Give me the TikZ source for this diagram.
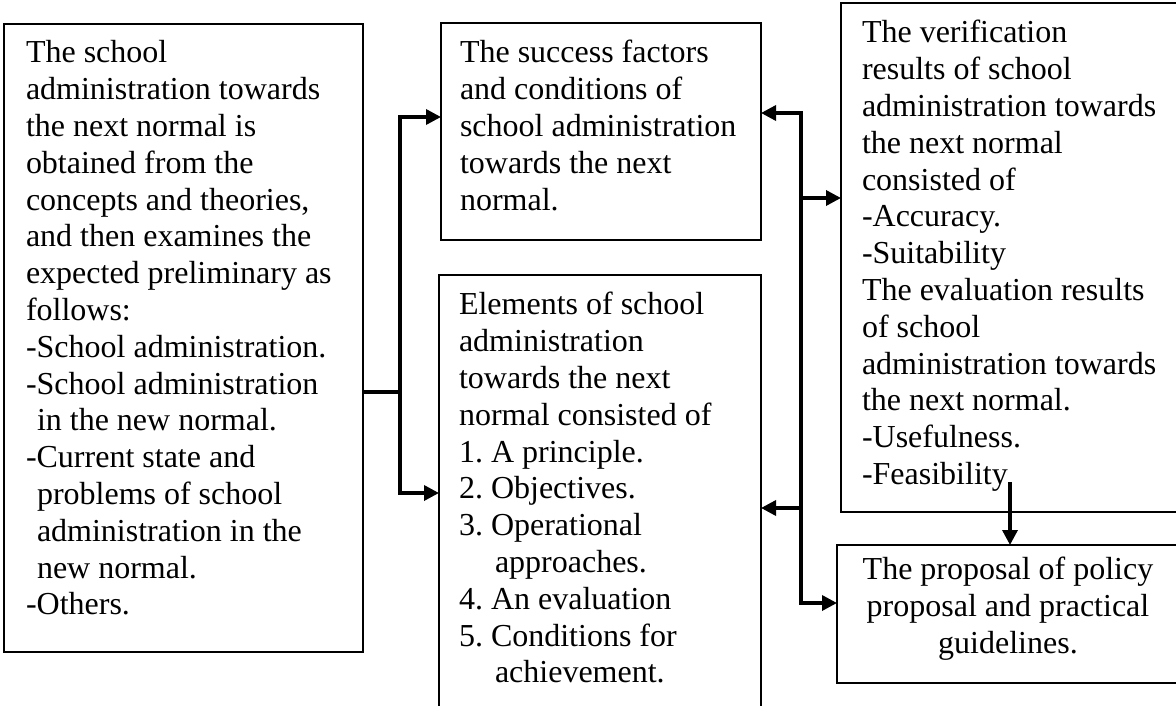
\documentclass[tikz,border=0pt]{standalone}
\usepackage{fontspec}
\setmainfont{Liberation Serif}
\usetikzlibrary{arrows.meta}
\frenchspacing
\tikzset{
  box/.style={draw=black, line width=1.2pt, inner sep=0pt, outer sep=0pt, anchor=north west},
  openbox/.style={draw=none, inner sep=0pt, outer sep=0pt, anchor=north west},
  edge/.style={draw=black, line width=1.2pt},
  txt/.style={inner sep=0pt, outer sep=0pt, align=left, anchor=north west, font=\fontsize{32}{36.8}\selectfont},
  conn/.style={line width=3.4pt, line join=miter},
  arr/.style={conn, -{Triangle[length=15pt,width=15pt]}}
}
\begin{document}
\begin{tikzpicture}[x=1pt,y=-1pt]
\useasboundingbox (0,0) rectangle (1176,706);
\fill[white] (0,0) rectangle (1176,706);
% boxes
\node[box, minimum width=359pt, minimum height=628pt] (A) at (4,24) {};
\node[box, minimum width=320pt, minimum height=217pt] (B) at (441,23) {};
\node[openbox, minimum width=322pt, minimum height=431pt] (C) at (439,275) {};
\node[openbox, minimum width=340pt, minimum height=509pt] (D) at (841,3) {};
\node[openbox, minimum width=344pt, minimum height=138pt] (E) at (837,545) {};
\draw[edge] (C.south west) -- (C.north west) -- (C.north east) -- (C.south east);
\draw[edge] (D.north east) -- (D.north west) -- (D.south west) -- (D.south east);
\draw[edge] (E.north east) -- (E.north west) -- (E.south west) -- (E.south east);
% texts
\node[txt] (At) at (26,37.2) {\strut The school\\administration towards\\the next normal is\\obtained from the\\concepts and theories,\\and then examines the\\expected preliminary as\\follows:\\-School administration.\\-School administration\\\hspace*{11pt}in the new normal.\\-Current state and\\\hspace*{11pt}problems of school\\\hspace*{11pt}administration in the\\\hspace*{11pt}new normal.\\-Others.};
\node[txt] (Bt) at (460,37.2) {\strut The success factors\\and conditions of\\school administration\\towards the next\\normal.};
\node[txt] (Ct) at (459,289.2) {\strut Elements of school\\administration\\towards the next\\normal consisted of\\1. A principle.\\2. Objectives.\\3. Operational\\\hspace*{36pt}approaches.\\4. An evaluation\\5. Conditions for\\\hspace*{36pt}achievement.};
\node[txt] (Dt) at (862,17.2) {\strut The verification\\results of school\\administration towards\\the next normal\\consisted of\\-Accuracy.\\-Suitability\\The evaluation results\\of school\\administration towards\\the next normal.\\-Usefulness.\\-Feasibility};
\node[txt, align=center, anchor=north] (Et) at (1008,554.2) {\strut The proposal of policy\\proposal and practical\\guidelines.};
% left bus
\coordinate (j1) at (400,392);
\coordinate (lb1) at (400,117);
\coordinate (lb2) at (400,493);
\draw[arr] (j1 -| A.east) -- (j1) -- (lb1) -- (lb1 -| B.west);
\draw[arr] (j1) -- (lb2) -- (lb2 -| C.west);
% right bus
\coordinate (rb1) at (801,113);
\coordinate (rbD) at (801,198);
\coordinate (rbC) at (801,508);
\coordinate (rb4) at (801,603);
\draw[arr] (rbD) -- (rb1) -- (rb1 -| B.east);
\draw[arr] (rbD) -- (rb4) -- (rb4 -| E.west);
\draw[arr] (rbD) -- (rbD -| D.west);
\draw[arr] (rbC) -- (rbC -| C.east);
% down arrow
\coordinate (fs) at (1010,482);
\draw[arr] (fs) -- (fs |- E.north);
\end{tikzpicture}
\end{document}
